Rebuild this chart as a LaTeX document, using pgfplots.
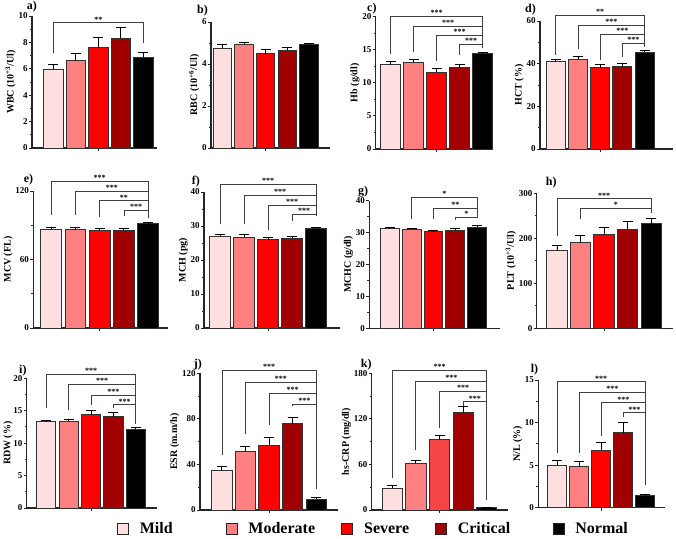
\documentclass[border=0pt]{standalone}
\usepackage{fontspec}
\setmainfont{Liberation Serif}
\usepackage{pgfplots}
\pgfplotsset{compat=1.18}
\definecolor{cmild}{HTML}{FFDFDF}
\definecolor{cmod}{HTML}{FF8080}
\definecolor{csev}{HTML}{FF0000}
\definecolor{csevk}{HTML}{F44444}
\definecolor{ccrit}{HTML}{A00000}
\definecolor{cnorm}{HTML}{000000}
\pgfplotsset{
 panel/.style={scale only axis, clip=false, anchor=south west,
   axis x line*=bottom, axis y line*=left,
   axis line style={line width=1.1pt, black!85},
   xtick={2}, xticklabel=\empty, ymin=0,
   tick align=outside, major tick length=3pt, minor tick length=2pt,
   every tick/.style={line width=0.9pt, black!85},
   minor y tick num=1,
   /pgf/number format/assume math mode=true,
   tick label style={font=\fontsize{9}{9}\selectfont\bfseries},
   yticklabel style={inner sep=1.2pt},
   ylabel style={font=\fontsize{10}{11}\selectfont\bfseries},
   ylabel shift=-2pt,
 },
 gbar/.style={ybar, bar width=0.86, bar shift=0pt, fill=#1, draw=black!80, line width=0.9pt, forget plot,
   error bars/.cd, y dir=plus, y explicit,
   error bar style={line width=0.9pt, black},
   error mark options={rotate=90, mark size=5pt, line width=0.9pt, black}},
 brk/.style={black!75, line width=0.8pt, forget plot, mark=none},
}
\tikzset{stars/.style={anchor=base, font=\fontsize{8}{8}\selectfont\bfseries, inner sep=0pt, yshift=0.5pt},
 plab/.style={anchor=base east, font=\fontsize{12}{12}\selectfont\bfseries, inner sep=0pt}}
\begin{document}
\begin{tikzpicture}
\useasboundingbox (0,0) rectangle (676pt,538pt);
% ---------- a
\begin{axis}[panel, at={(32pt,390pt)}, width=125pt, height=132pt, xmin=-0.95, xmax=4.61, ymax=10, ytick={0,2,4,6,8,10}, ylabel={WBC (10\textsuperscript{+3}/Ul)}]
\addplot[gbar=cmild] coordinates {(0,5.96) +- (0,0.40)};
\addplot[gbar=cmod] coordinates {(1,6.61) +- (0,0.56)};
\addplot[gbar=csev] coordinates {(2,7.60) +- (0,0.76)};
\addplot[gbar=ccrit] coordinates {(3,8.30) +- (0,0.80)};
\addplot[gbar=cnorm] coordinates {(4,6.87) +- (0,0.38)};
\addplot[brk] coordinates {(0,7.17) (0,9.5) (4,9.5) (4,7.95)};
\node[stars] at (axis cs:2,9.5) {**};
\node[plab, xshift=5pt, yshift=6pt] at (rel axis cs:0,1) {a)};
\end{axis}
% ---------- b
\begin{axis}[panel, at={(211pt,390pt)}, width=119pt, height=126pt, xmin=-0.53, xmax=4.98, ymax=6, ytick={0,2,4,6}, ylabel={RBC (10\textsuperscript{+6}/Ul)}]
\addplot[gbar=cmild] coordinates {(0,4.75) +- (0,0.19)};
\addplot[gbar=cmod] coordinates {(1,4.92) +- (0,0.10)};
\addplot[gbar=csev] coordinates {(2,4.49) +- (0,0.18)};
\addplot[gbar=ccrit] coordinates {(3,4.66) +- (0,0.14)};
\addplot[gbar=cnorm] coordinates {(4,4.93) +- (0,0.05)};
\node[plab, xshift=-3pt, yshift=8pt] at (rel axis cs:0,1) {b)};
\end{axis}
% ---------- c
\begin{axis}[panel, at={(375.7pt,389pt)}, width=117.6pt, height=132.3pt, xmin=-0.65, xmax=4.46, ymax=20, ytick={0,5,10,15,20}, ylabel={Hb (g/dl)}]
\addplot[gbar=cmild] coordinates {(0,12.73) +- (0,0.50)};
\addplot[gbar=cmod] coordinates {(1,13.13) +- (0,0.45)};
\addplot[gbar=csev] coordinates {(2,11.60) +- (0,0.60)};
\addplot[gbar=ccrit] coordinates {(3,12.30) +- (0,0.50)};
\addplot[gbar=cnorm] coordinates {(4,14.40) +- (0,0.20)};
\addplot[brk] coordinates {(0,14.3) (0,20.1) (4,20.1) (4,15.25)};
\addplot[brk] coordinates {(1,14.65) (1,18.6) (4,18.6)};
\addplot[brk] coordinates {(2,13.3) (2,17.2) (4,17.2)};
\addplot[brk] coordinates {(3,14.2) (3,15.8) (4,15.8)};
\node[stars] at (axis cs:2,20.1) {***};
\node[stars] at (axis cs:2.5,18.6) {***};
\node[stars] at (axis cs:3,17.2) {***};
\node[stars] at (axis cs:3.5,15.8) {***};
\node[plab, xshift=1pt, yshift=5pt] at (rel axis cs:0,1) {c)};
\end{axis}
% ---------- d
\begin{axis}[panel, at={(540pt,389pt)}, width=133pt, height=128pt, xmin=-0.71, xmax=5.28, ymax=60, ytick={0,20,40,60}, ylabel={HCT (\%)}]
\addplot[gbar=cmild] coordinates {(0,40.9) +- (0,1.2)};
\addplot[gbar=cmod] coordinates {(1,42.2) +- (0,1.0)};
\addplot[gbar=csev] coordinates {(2,38.1) +- (0,1.5)};
\addplot[gbar=ccrit] coordinates {(3,38.6) +- (0,1.5)};
\addplot[gbar=cnorm] coordinates {(4,45.3) +- (0,0.8)};
\addplot[brk] coordinates {(0,44) (0,62.8) (4,62.8) (4,48)};
\addplot[brk] coordinates {(1,47) (1,58.1) (4,58.1)};
\addplot[brk] coordinates {(2,41.5) (2,53.8) (4,53.8)};
\addplot[brk] coordinates {(3,43) (3,49.5) (4,49.5)};
\node[stars] at (axis cs:2,62.8) {**};
\node[stars] at (axis cs:2.5,58.1) {***};
\node[stars] at (axis cs:3,53.8) {***};
\node[stars] at (axis cs:3.5,49.5) {***};
\node[plab, xshift=-4pt, yshift=8pt] at (rel axis cs:0,1) {d)};
\end{axis}
% ---------- e
\begin{axis}[panel, at={(33.3pt,210pt)}, width=134.7pt, height=137pt, xmin=-0.74, xmax=4.82, ymax=120, ytick={0,60,120}, ylabel={MCV (FL)}]
\addplot[gbar=cmild] coordinates {(0,86.4) +- (0,1.6)};
\addplot[gbar=cmod] coordinates {(1,86.2) +- (0,1.5)};
\addplot[gbar=csev] coordinates {(2,85.1) +- (0,2.2)};
\addplot[gbar=ccrit] coordinates {(3,85.2) +- (0,1.6)};
\addplot[gbar=cnorm] coordinates {(4,91.5) +- (0,1.3)};
\addplot[brk] coordinates {(0,98.7) (0,128.5) (4,128.5) (4,96.6)};
\addplot[brk] coordinates {(1,98.7) (1,120) (4,120)};
\addplot[brk] coordinates {(2,97.2) (2,111.5) (4,111.5)};
\addplot[brk] coordinates {(3,98.1) (3,103.3) (4,103.3)};
\node[stars] at (axis cs:2,128.5) {***};
\node[stars] at (axis cs:2.5,120) {***};
\node[stars] at (axis cs:3,111.5) {**};
\node[stars] at (axis cs:3.5,103.3) {***};
\node[plab, xshift=0pt, yshift=8pt] at (rel axis cs:0,1) {e)};
\end{axis}
% ---------- f
\begin{axis}[panel, at={(204pt,210pt)}, width=136pt, height=136pt, xmin=-0.67, xmax=5.0, ymax=40, ytick={0,10,20,30,40}, ylabel={MCH (pg)}]
\addplot[gbar=cmild] coordinates {(0,26.9) +- (0,0.7)};
\addplot[gbar=cmod] coordinates {(1,26.7) +- (0,0.7)};
\addplot[gbar=csev] coordinates {(2,25.9) +- (0,0.8)};
\addplot[gbar=ccrit] coordinates {(3,26.4) +- (0,0.6)};
\addplot[gbar=cnorm] coordinates {(4,29.3) +- (0,0.3)};
\addplot[brk] coordinates {(0,30.5) (0,42.3) (4,42.3) (4,32.9)};
\addplot[brk] coordinates {(1,30.5) (1,39.0) (4,39.0)};
\addplot[brk] coordinates {(2,28.7) (2,36.1) (4,36.1)};
\addplot[brk] coordinates {(3,31.5) (3,33.4) (4,33.4)};
\node[stars] at (axis cs:2,42.3) {***};
\node[stars] at (axis cs:2.5,39.0) {***};
\node[stars] at (axis cs:3,36.1) {***};
\node[stars] at (axis cs:3.5,33.4) {***};
\node[plab, xshift=-4pt, yshift=7pt] at (rel axis cs:0,1) {f)};
\end{axis}
% ---------- g
\begin{axis}[panel, at={(369.3pt,209.7pt)}, width=130.7pt, height=127.6pt, xmin=-0.93, xmax=5.04, ymax=40, ytick={0,10,20,30,40}, ylabel={MCHC (g/dl)}]
\addplot[gbar=cmild] coordinates {(0,31.2) +- (0,0.4)};
\addplot[gbar=cmod] coordinates {(1,31.05) +- (0,0.35)};
\addplot[gbar=csev] coordinates {(2,30.3) +- (0,0.3)};
\addplot[gbar=ccrit] coordinates {(3,30.8) +- (0,0.45)};
\addplot[gbar=cnorm] coordinates {(4,31.7) +- (0,0.4)};
\addplot[brk] coordinates {(1,34.3) (1,41.1) (4,41.1) (4,34.5)};
\addplot[brk] coordinates {(2,34.3) (2,37.7) (4,37.7)};
\addplot[brk] coordinates {(3,33.8) (3,34.9) (4,34.9)};
\node[stars] at (axis cs:2.5,41.1) {*};
\node[stars] at (axis cs:3,37.7) {**};
\node[stars] at (axis cs:3.5,34.9) {*};
\node[plab, xshift=-1pt, yshift=6pt] at (rel axis cs:0,1) {g)};
\end{axis}
% ---------- h
\begin{axis}[panel, at={(536.7pt,209.7pt)}, width=136.3pt, height=135pt, xmin=-0.86, xmax=4.93, ymax=300, ytick={0,100,200,300}, ylabel={PLT (10\textsuperscript{+3}/Ul)}]
\addplot[gbar=cmild] coordinates {(0,174) +- (0,10)};
\addplot[gbar=cmod] coordinates {(1,191) +- (0,15)};
\addplot[gbar=csev] coordinates {(2,209) +- (0,14)};
\addplot[gbar=ccrit] coordinates {(3,219) +- (0,19)};
\addplot[gbar=cnorm] coordinates {(4,232) +- (0,13)};
\addplot[brk] coordinates {(0,205) (0,288) (4,288) (4,256)};
\addplot[brk] coordinates {(1,243) (1,267) (4,267)};
\node[stars] at (axis cs:2,288) {***};
\node[stars] at (axis cs:2.5,267) {*};
\node[plab, xshift=20pt, yshift=8pt] at (rel axis cs:0,1) {h)};
\end{axis}
% ---------- i
\begin{axis}[panel, at={(26.7pt,30pt)}, width=130pt, height=129.7pt, xmin=-0.87, xmax=4.93, ymax=20, ytick={0,5,10,15,20}, ylabel={RDW (\%)}, ylabel shift=-4pt]
\addplot[gbar=cmild] coordinates {(0,13.3) +- (0,0.27)};
\addplot[gbar=cmod] coordinates {(1,13.35) +- (0,0.27)};
\addplot[gbar=csev] coordinates {(2,14.45) +- (0,0.55)};
\addplot[gbar=ccrit] coordinates {(3,14.08) +- (0,0.6)};
\addplot[gbar=cnorm] coordinates {(4,12.18) +- (0,0.2)};
\addplot[brk] coordinates {(0,15.4) (0,20.6) (4,20.6) (4,12.9)};
\addplot[brk] coordinates {(1,15.1) (1,19.07) (4,19.07)};
\addplot[brk] coordinates {(2,15.9) (2,17.4) (4,17.4)};
\addplot[brk] coordinates {(3,15.4) (3,15.9) (4,15.9)};
\node[stars] at (axis cs:2,20.6) {***};
\node[stars] at (axis cs:2.5,19.07) {***};
\node[stars] at (axis cs:3,17.4) {***};
\node[stars] at (axis cs:3.5,15.9) {***};
\node[plab, xshift=0pt, yshift=5pt] at (rel axis cs:0,1) {i)};
\end{axis}
% ---------- j
\begin{axis}[panel, at={(200pt,28pt)}, width=138pt, height=136.7pt, xmin=-0.93, xmax=4.93, ymax=120, ytick={0,40,80,120}, ylabel={ESR (m.m/h)}]
\addplot[gbar=cmild] coordinates {(0,34.4) +- (0,4.1)};
\addplot[gbar=cmod] coordinates {(1,51.1) +- (0,4.4)};
\addplot[gbar=csev] coordinates {(2,56.9) +- (0,6.7)};
\addplot[gbar=ccrit] coordinates {(3,75.9) +- (0,5.3)};
\addplot[gbar=cnorm] coordinates {(4,9.4) +- (0,1.4)};
\addplot[brk] coordinates {(0,48) (0,122.6) (4,122.6) (4,18)};
\addplot[brk] coordinates {(1,66.5) (1,112.4) (4,112.4)};
\addplot[brk] coordinates {(2,75) (2,102.7) (4,102.7)};
\addplot[brk] coordinates {(3,91) (3,92.8) (4,92.8)};
\node[stars] at (axis cs:2,122.6) {***};
\node[stars] at (axis cs:2.5,112.4) {***};
\node[stars] at (axis cs:3,102.7) {***};
\node[stars] at (axis cs:3.5,92.8) {***};
\node[plab, xshift=2pt, yshift=6pt] at (rel axis cs:0,1) {j)};
\end{axis}
% ---------- k
\begin{axis}[panel, at={(371.7pt,28pt)}, width=136.3pt, height=136.7pt, xmin=-0.87, xmax=4.9, ymax=180, ytick={0,60,120,180}, ylabel={hs-CRP (mg/dl)}]
\addplot[gbar=cmild] coordinates {(0,28.5) +- (0,4.4)};
\addplot[gbar=cmod] coordinates {(1,61.5) +- (0,4.3)};
\addplot[gbar=csevk] coordinates {(2,93.1) +- (0,5.7)};
\addplot[gbar=ccrit] coordinates {(3,128.2) +- (0,7.8)};
\addplot[gbar=cnorm] coordinates {(4,3.0) +- (0,0.9)};
\addplot[brk] coordinates {(0,41.7) (0,184.4) (4,184.4) (4,13)};
\addplot[brk] coordinates {(1,79) (1,169.9) (4,169.9)};
\addplot[brk] coordinates {(2,107.6) (2,156.7) (4,156.7)};
\addplot[brk] coordinates {(3,137) (3,142.6) (4,142.6)};
\node[stars] at (axis cs:2,184.4) {***};
\node[stars] at (axis cs:2.5,169.9) {***};
\node[stars] at (axis cs:3,156.7) {***};
\node[stars] at (axis cs:3.5,142.6) {***};
\node[plab, xshift=0pt, yshift=6pt] at (rel axis cs:0,1) {k)};
\end{axis}
% ---------- l
\begin{axis}[panel, at={(538.3pt,30.3pt)}, width=126.7pt, height=127.7pt, xmin=-0.85, xmax=4.89, ymax=15, ytick={0,5,10,15}, ylabel={N/L (\%)},
  legend style={at={(-3.3252,-0.1668)}, anchor=west, draw=none, fill=none, legend columns=5,
    column sep=0pt, inner sep=0pt, font=\fontsize{16}{16}\selectfont\bfseries,
    nodes={inner sep=0pt, anchor=west}}, legend cell align=left]
\addlegendimage{legend image code/.code={\draw[fill=cmild, draw=black!85, line width=0.9pt] (0pt,-5.5pt) rectangle (11pt,5.5pt); \path (22pt,0pt);}}
\addlegendentry{\makebox[86pt][l]{Mild}}
\addlegendimage{legend image code/.code={\draw[fill=cmod, draw=black!85, line width=0.9pt] (0pt,-5.5pt) rectangle (11pt,5.5pt); \path (22pt,0pt);}}
\addlegendentry{\makebox[93pt][l]{Moderate}}
\addlegendimage{legend image code/.code={\draw[fill=csev, draw=black!85, line width=0.9pt] (0pt,-5.5pt) rectangle (11pt,5.5pt); \path (22pt,0pt);}}
\addlegendentry{\makebox[71pt][l]{Severe}}
\addlegendimage{legend image code/.code={\draw[fill=ccrit, draw=black!85, line width=0.9pt] (0pt,-5.5pt) rectangle (11pt,5.5pt); \path (22pt,0pt);}}
\addlegendentry{\makebox[95pt][l]{Critical}}
\addlegendimage{legend image code/.code={\draw[fill=cnorm, draw=black!85, line width=0.9pt] (0pt,-5.5pt) rectangle (11pt,5.5pt); \path (22pt,0pt);}}
\addlegendentry{Normal}
\addplot[gbar=cmild] coordinates {(0,4.93) +- (0,0.67)};
\addplot[gbar=cmod] coordinates {(1,4.90) +- (0,0.59)};
\addplot[gbar=csev] coordinates {(2,6.78) +- (0,0.90)};
\addplot[gbar=ccrit] coordinates {(3,8.81) +- (0,1.22)};
\addplot[gbar=cnorm] coordinates {(4,1.41) +- (0,0.20)};
\addplot[brk] coordinates {(0,6.4) (0,14.8) (4,14.8) (4,2.7)};
\addplot[brk] coordinates {(1,6.4) (1,13.56) (4,13.56)};
\addplot[brk] coordinates {(2,8.4) (2,12.33) (4,12.33)};
\addplot[brk] coordinates {(3,10.6) (3,11.16) (4,11.16)};
\node[stars] at (axis cs:2,14.8) {***};
\node[stars] at (axis cs:2.5,13.56) {***};
\node[stars] at (axis cs:3,12.33) {***};
\node[stars] at (axis cs:3.5,11.16) {***};
\node[plab, xshift=0pt, yshift=7pt] at (rel axis cs:0,1) {l)};
\end{axis}
\end{tikzpicture}
\end{document}
